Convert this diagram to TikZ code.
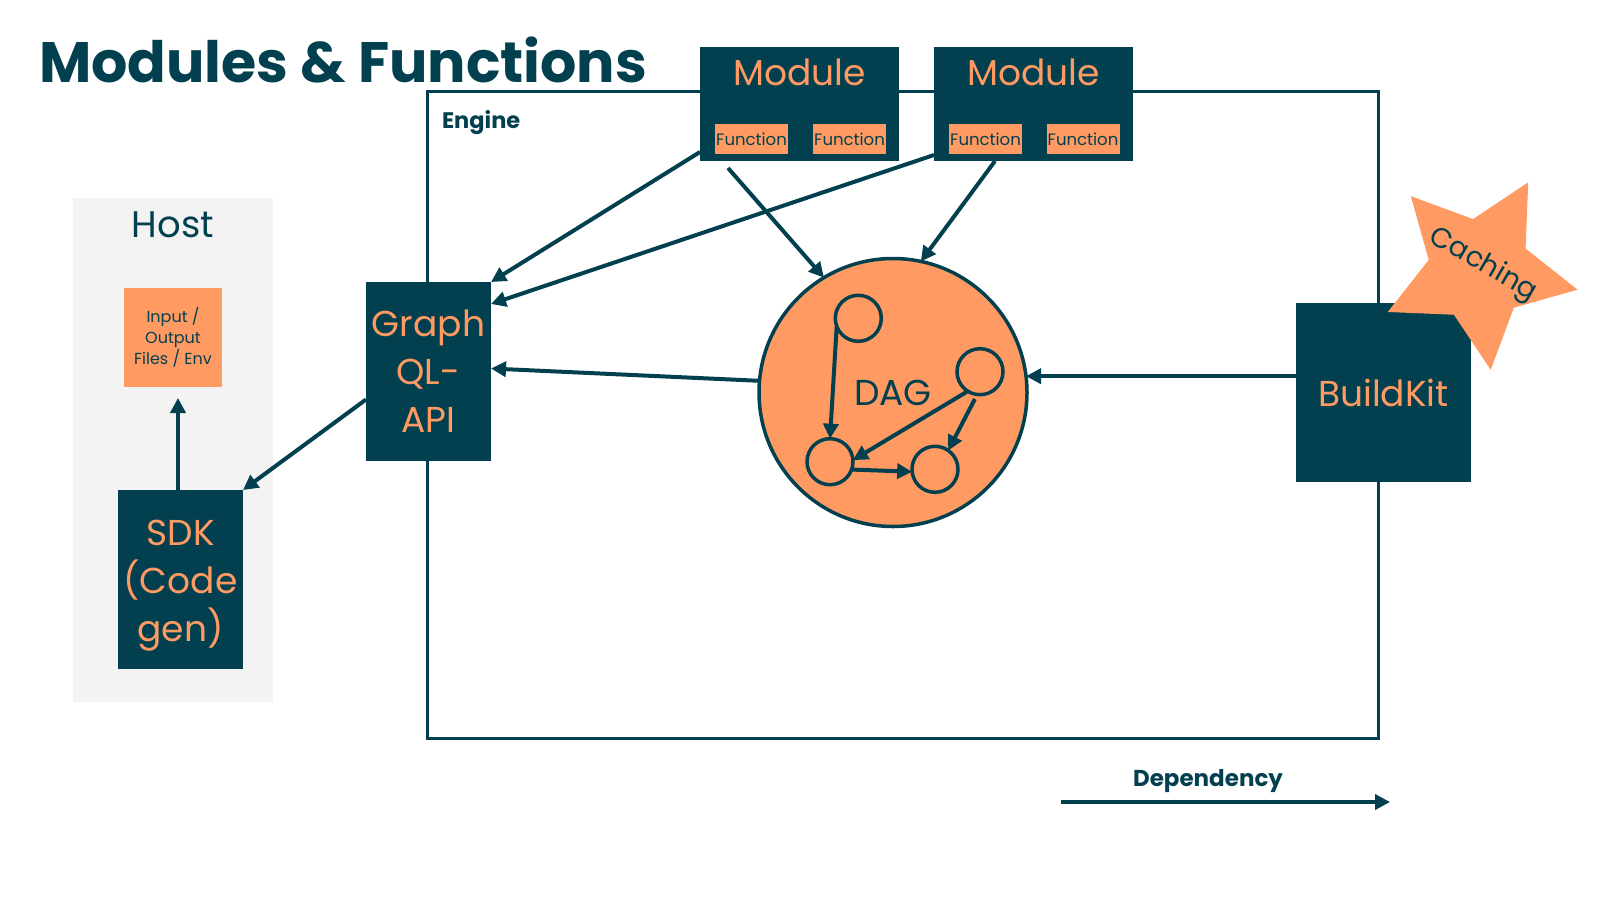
\documentclass[tikz,border=0pt]{standalone}
\usepackage{fontspec}
\setmainfont{Poppins}
\usetikzlibrary{arrows.meta,positioning,shapes.geometric}
\definecolor{ink}{HTML}{02404F}
\definecolor{peach}{HTML}{FE9A62}
\definecolor{hostbg}{HTML}{F3F3F3}

\begin{document}
\begin{tikzpicture}[
    x=1pt, y=-1pt,
    every node/.style={align=center, inner sep=0pt, outer sep=0pt, text=ink},
    darkbox/.style={rectangle, fill=ink, text=peach, font=\fontsize{36}{48}\selectfont},
    fnbox/.style={rectangle, fill=peach, minimum width=73pt, minimum height=30pt, font=\fontsize{16.5}{18}\selectfont},
    dagnode/.style={circle, draw=ink, line width=3.5pt, minimum size=46pt},
    arr/.style={-{Triangle[length=15pt,width=15pt]}, line width=4pt, draw=ink}
]
\useasboundingbox (0,0) rectangle (1600,900);

% title, engine frame
\node[anchor=base west, font=\fontsize{57}{60}\selectfont\bfseries] (title) at (39,82) {Modules \& Functions};
\node[draw=ink, line width=3pt, minimum width=951pt, minimum height=647pt] (eng) at (902.5,414.5) {};
\node[anchor=base west, font=\fontsize{22.5}{24}\selectfont\bfseries] (englbl) at (442,128) {Engine};

% host side
\node[fill=hostbg, minimum width=200pt, minimum height=504pt] (host) at (173,450) {};
\node[anchor=base, font=\fontsize{37}{40}\selectfont] (hostlbl) at (173,237) {Host};
\node[fill=peach, minimum width=98pt, minimum height=99pt, font=\fontsize{16}{20.7}\selectfont] (io) at (173,337.5) {Input /\\Output\\Files / Env};
\node[darkbox, minimum width=125pt, minimum height=179pt] (sdk) at (180.5,579.5) {};
\node[text=peach, font=\fontsize{36}{48}\selectfont] (sdklbl) at ([yshift=-6pt]sdk.center) {SDK\\(Code\\gen)};

\node[darkbox, minimum width=125pt, minimum height=179pt] (gql) at (428.5,371.5) {Graph\\QL-\\API};
\node[darkbox, minimum width=175pt, minimum height=179pt] (bk) at (1383.5,392.5) {BuildKit};

% modules
\node[darkbox, minimum width=199pt, minimum height=114pt] (m1) at (799.5,104) {};
\node[anchor=base, text=peach, font=\fontsize{36}{40}\selectfont] (m1lbl) at (799.5,85) {Module};
\node[fnbox] (m1f1) at (751.5,139) {Function};
\node[fnbox] (m1f2) at (849.5,139) {Function};
\node[darkbox, minimum width=199pt, minimum height=114pt] (m2) at (1033.5,104) {};
\node[anchor=base, text=peach, font=\fontsize{36}{40}\selectfont] (m2lbl) at (1033.5,85) {Module};
\node[fnbox] (m2f1) at (985.5,139) {Function};
\node[fnbox] (m2f2) at (1083,139) {Function};

% DAG
\node[circle, draw=ink, fill=peach, line width=3.5pt, minimum size=268pt, font=\fontsize{36}{40}\selectfont] (dag) at (893,392.5) {DAG};
\node[dagnode] (da) at (858.3,318.3) {};
\node[dagnode] (db) at (980,371.7) {};
\node[dagnode] (dc) at (830,461.7) {};
\node[dagnode] (dd) at (935,469.3) {};
\draw[arr] (da.200) -- (dc.north);
\draw[arr] (db.238) -- (dc.4);
\draw[arr, shorten <=5pt] (db.263) -- (dd.55);
\draw[arr] (dc.340) -- (dd.186);

% caching star
\node[star, star points=5, star point ratio=1.96, minimum size=201pt, fill=peach, rotate=-29.3] (cache) at (1479,270) {};
\node[rotate=-30, font=\fontsize{28}{30}\selectfont] (cachelbl) at (1483,265) {Caching};

% connectors
\draw[arr] ([yshift=9pt]m1.south west) -- (gql.north east);
\draw[arr] ([yshift=6pt]m2.south west) -- ([yshift=-22pt]gql.north east);
\draw[arr] (dag.175) -- ([yshift=3pt]gql.east);
\draw[arr] ([xshift=28pt,yshift=-7pt]m1.south west) -- (dag.121);
\draw[arr] ([xshift=61pt]m2.south west) -- (dag.78);
\draw[arr] (bk.west |- dag.7) -- (dag.7);
\draw[arr] ([yshift=-28pt]gql.west) -- (sdk.north east);
\draw[arr, shorten >=11pt] ([xshift=-2.5pt]sdk.north) -- ([xshift=-2.5pt]sdk.north |- io.south);

% legend
\node[anchor=base, font=\fontsize{23}{26}\selectfont\bfseries] (deplbl) at (1208,786) {Dependency};
\coordinate (depstart) at (1061,802);
\coordinate (depend) at (1390,802);
\draw[arr] (depstart) -- (depend);
\end{tikzpicture}
\end{document}
